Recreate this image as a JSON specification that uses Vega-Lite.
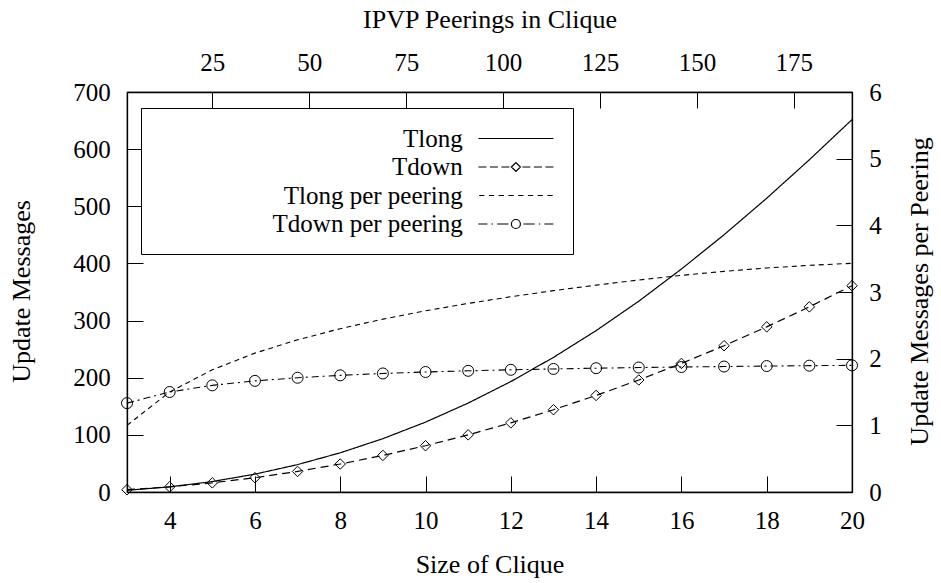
{
  "$schema": "https://vega.github.io/schema/vega-lite/v6.json",
  "width": 725,
  "height": 400,
  "autosize": {"type": "none"},
  "padding": {"left": 127, "top": 92, "right": 89, "bottom": 91},
  "background": "white",
  "config": {
    "font": "Liberation Serif, Times New Roman, Times, DejaVu Serif, serif",
    "view": {"stroke": "black", "strokeWidth": 1.2},
    "axis": {
      "grid": false,
      "domainColor": "black",
      "domainWidth": 1.3,
      "tickColor": "black",
      "tickWidth": 1,
      "tickSize": -16,
      "labelFont": "Liberation Serif, Times New Roman, Times, DejaVu Serif, serif",
      "labelFontSize": 25,
      "labelColor": "black",
      "titleFont": "Liberation Serif, Times New Roman, Times, DejaVu Serif, serif",
      "titleFontSize": 26,
      "titleFontWeight": "normal",
      "titleColor": "black",
      "labelPadding": 32.8,
      "labelFlush": false,
      "labelOverlap": false
    }
  },
  "data": {
    "values": [
      {"n": 3, "series": "Tlong", "value": 3},
      {"n": 4, "series": "Tlong", "value": 9},
      {"n": 5, "series": "Tlong", "value": 18.33},
      {"n": 6, "series": "Tlong", "value": 31.25},
      {"n": 7, "series": "Tlong", "value": 47.95},
      {"n": 8, "series": "Tlong", "value": 68.6},
      {"n": 9, "series": "Tlong", "value": 93.34},
      {"n": 10, "series": "Tlong", "value": 122.3},
      {"n": 11, "series": "Tlong", "value": 155.6},
      {"n": 12, "series": "Tlong", "value": 193.3},
      {"n": 13, "series": "Tlong", "value": 235.6},
      {"n": 14, "series": "Tlong", "value": 282.4},
      {"n": 15, "series": "Tlong", "value": 333.9},
      {"n": 16, "series": "Tlong", "value": 390.2},
      {"n": 17, "series": "Tlong", "value": 450.2},
      {"n": 18, "series": "Tlong", "value": 514.1},
      {"n": 19, "series": "Tlong", "value": 581.4},
      {"n": 20, "series": "Tlong", "value": 651.7},
      {"n": 3, "series": "Tdown", "value": 4},
      {"n": 4, "series": "Tdown", "value": 9},
      {"n": 5, "series": "Tdown", "value": 16},
      {"n": 6, "series": "Tdown", "value": 25},
      {"n": 7, "series": "Tdown", "value": 36},
      {"n": 8, "series": "Tdown", "value": 49},
      {"n": 9, "series": "Tdown", "value": 64},
      {"n": 10, "series": "Tdown", "value": 81},
      {"n": 11, "series": "Tdown", "value": 100},
      {"n": 12, "series": "Tdown", "value": 121},
      {"n": 13, "series": "Tdown", "value": 144},
      {"n": 14, "series": "Tdown", "value": 169},
      {"n": 15, "series": "Tdown", "value": 196},
      {"n": 16, "series": "Tdown", "value": 225},
      {"n": 17, "series": "Tdown", "value": 256},
      {"n": 18, "series": "Tdown", "value": 289},
      {"n": 19, "series": "Tdown", "value": 324},
      {"n": 20, "series": "Tdown", "value": 361},
      {"n": 3, "series": "Tlong per peering", "value": 1.0},
      {"n": 4, "series": "Tlong per peering", "value": 1.5},
      {"n": 5, "series": "Tlong per peering", "value": 1.833},
      {"n": 6, "series": "Tlong per peering", "value": 2.083},
      {"n": 7, "series": "Tlong per peering", "value": 2.283},
      {"n": 8, "series": "Tlong per peering", "value": 2.45},
      {"n": 9, "series": "Tlong per peering", "value": 2.593},
      {"n": 10, "series": "Tlong per peering", "value": 2.718},
      {"n": 11, "series": "Tlong per peering", "value": 2.829},
      {"n": 12, "series": "Tlong per peering", "value": 2.929},
      {"n": 13, "series": "Tlong per peering", "value": 3.02},
      {"n": 14, "series": "Tlong per peering", "value": 3.103},
      {"n": 15, "series": "Tlong per peering", "value": 3.18},
      {"n": 16, "series": "Tlong per peering", "value": 3.25},
      {"n": 17, "series": "Tlong per peering", "value": 3.31},
      {"n": 18, "series": "Tlong per peering", "value": 3.36},
      {"n": 19, "series": "Tlong per peering", "value": 3.4},
      {"n": 20, "series": "Tlong per peering", "value": 3.43},
      {"n": 3, "series": "Tdown per peering", "value": 1.333},
      {"n": 4, "series": "Tdown per peering", "value": 1.5},
      {"n": 5, "series": "Tdown per peering", "value": 1.6},
      {"n": 6, "series": "Tdown per peering", "value": 1.667},
      {"n": 7, "series": "Tdown per peering", "value": 1.714},
      {"n": 8, "series": "Tdown per peering", "value": 1.75},
      {"n": 9, "series": "Tdown per peering", "value": 1.778},
      {"n": 10, "series": "Tdown per peering", "value": 1.8},
      {"n": 11, "series": "Tdown per peering", "value": 1.818},
      {"n": 12, "series": "Tdown per peering", "value": 1.833},
      {"n": 13, "series": "Tdown per peering", "value": 1.846},
      {"n": 14, "series": "Tdown per peering", "value": 1.857},
      {"n": 15, "series": "Tdown per peering", "value": 1.867},
      {"n": 16, "series": "Tdown per peering", "value": 1.875},
      {"n": 17, "series": "Tdown per peering", "value": 1.882},
      {"n": 18, "series": "Tdown per peering", "value": 1.889},
      {"n": 19, "series": "Tdown per peering", "value": 1.895},
      {"n": 20, "series": "Tdown per peering", "value": 1.9}
    ]
  },
  "layer": [
    {
      "transform": [{"filter": {"field": "series", "oneOf": ["Tlong", "Tdown"]}}],
      "encoding": {
        "x": {
          "field": "n", "type": "quantitative",
          "scale": {"domain": [3, 20], "nice": false, "zero": false},
          "axis": {"orient": "bottom", "values": [4, 6, 8, 10, 12, 14, 16, 18, 20], "title": "Size of Clique", "titleY": 80, "titleBaseline": "alphabetic"}
        },
        "y": {
          "field": "value", "type": "quantitative",
          "scale": {"domain": [0, 700], "nice": false},
          "axis": {"orient": "left", "values": [0, 100, 200, 300, 400, 500, 600, 700], "title": "Update Messages", "titleAngle": 270, "titleX": -98, "titleY": 199, "titleBaseline": "alphabetic", "titleAlign": "center"}
        }
      },
      "layer": [
        {
          "mark": {"type": "line", "color": "black", "strokeWidth": 1.2},
          "encoding": {
            "strokeDash": {"field": "series", "type": "nominal", "scale": {"domain": ["Tlong", "Tdown"], "range": [[1, 0], [8, 5]]}, "legend": null}
          }
        },
        {
          "transform": [{"filter": "datum.series == 'Tdown'"}],
          "mark": {"type": "point", "shape": "diamond", "size": 110, "filled": false, "stroke": "black", "strokeWidth": 1, "opacity": 1}
        }
      ]
    },
    {
      "transform": [{"filter": {"field": "series", "oneOf": ["Tlong per peering", "Tdown per peering"]}}],
      "encoding": {
        "x": {
          "field": "n", "type": "quantitative",
          "scale": {"domain": [3, 20], "nice": false, "zero": false},
          "axis": null
        },
        "y": {
          "field": "value", "type": "quantitative",
          "scale": {"domain": [0, 6], "nice": false},
          "axis": {"orient": "right", "values": [0, 1, 2, 3, 4, 5, 6], "title": "Update Messages per Peering", "titleAngle": 270, "titleX": 75, "titleY": 199, "titleBaseline": "alphabetic", "titleAlign": "center"}
        }
      },
      "layer": [
        {
          "mark": {"type": "line", "color": "black", "strokeWidth": 1.1},
          "encoding": {
            "strokeDash": {"field": "series", "type": "nominal", "scale": {"domain": ["Tlong per peering", "Tdown per peering"], "range": [[5, 4], [7, 4, 2, 4]]}, "legend": null}
          }
        },
        {
          "transform": [{"filter": "datum.series == 'Tdown per peering'"}],
          "mark": {"type": "point", "shape": "circle", "size": 121, "filled": false, "stroke": "black", "strokeWidth": 1, "opacity": 1}
        }
      ]
    },
    {
      "transform": [{"filter": "false"}],
      "mark": {"type": "point", "filled": false, "color": "black", "strokeWidth": 1.2, "opacity": 1},
      "encoding": {
        "x": {
          "field": "n", "type": "quantitative",
          "scale": {"domain": [3, 190], "nice": false, "zero": false},
          "axis": {"orient": "top", "values": [25, 50, 75, 100, 125, 150, 175], "title": "IPVP Peerings in Clique", "titleY": -65, "titleBaseline": "alphabetic"}
        },
        "shape": {
          "field": "series", "type": "nominal",
          "scale": {
            "domain": ["Tlong", "Tdown", "Tlong per peering", "Tdown per peering"],
            "range": [
              "M-3,0H3",
              "M-3,0H-2.361M-2.079,0H-1.44M-1.161,0H-0.519M-0.36,0L0,-0.36L0.36,0L0,0.36ZM0.519,0H1.161M1.44,0H2.079M2.361,0H3",
              "M-2.94,0H-2.52M-2.16,0H-1.74M-1.38,0H-0.96M-0.6,0H-0.18M0.18,0H0.6M0.96,0H1.38M1.74,0H2.16M2.52,0H2.94",
              "M-3,0H-2.28M-1.95,0H-1.83M-1.5,0H-0.6M0.36,0A0.36,0.36 0 1,1 -0.36,0A0.36,0.36 0 1,1 0.36,0ZM0.6,0H1.5M1.83,0H1.95M2.28,0H3"
            ]
          },
          "legend": {
            "orient": "none",
            "legendX": 14,
            "legendY": 16,
            "title": null,
            "strokeColor": "black",
            "fillColor": "white",
            "padding": 17,
            "symbolSize": 625,
            "symbolStrokeWidth": 1.2,
            "symbolStrokeColor": "black",
            "symbolOffset": 344.4,
            "labelAlign": "right",
            "labelOffset": -66.6,
            "labelFont": "Liberation Serif, Times New Roman, Times, DejaVu Serif, serif",
            "labelFontSize": 25,
            "labelColor": "black",
            "labelLimit": 400,
            "rowPadding": 1.5
          }
        }
      }
    }
  ],
  "resolve": {"scale": {"x": "independent", "y": "independent", "strokeDash": "independent", "shape": "independent"}}
}
